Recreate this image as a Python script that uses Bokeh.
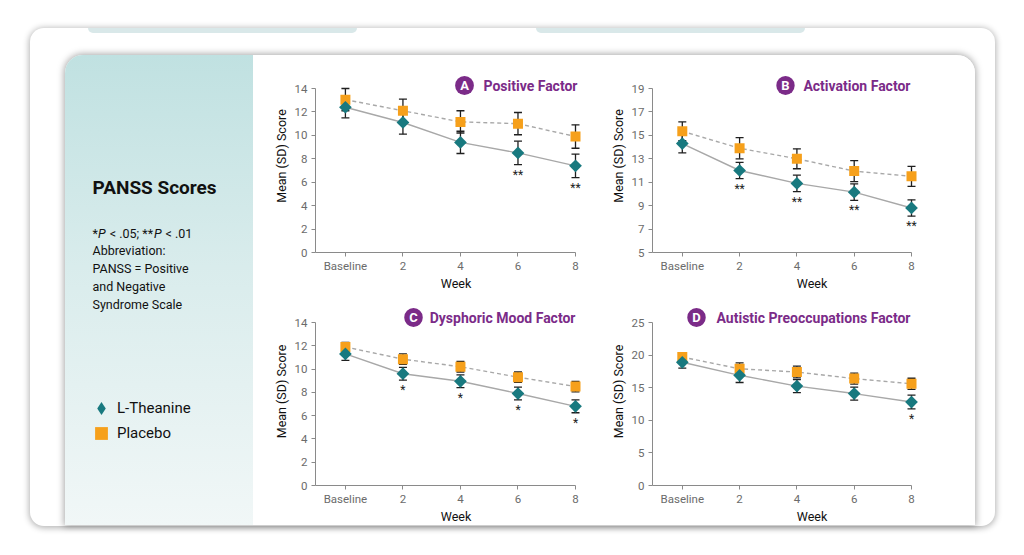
import numpy as np
from bokeh.plotting import figure
from bokeh.models import (Range1d, FixedTicker, Label, Whisker, TeeHead, ColumnDataSource,
                          Legend, LegendItem, Spacer)
from bokeh.layouts import row, column
from bokeh.embed import file_html
from bokeh.resources import INLINE
from bokeh.core.properties import value

# ---------------- data ----------------
weeks = ["Baseline", "2", "4", "6", "8"]

a_lth_mean = [12.4, 11.1, 9.4, 8.5, 7.4]
a_lth_sd = [0.9, 1.0, 0.95, 1.0, 1.0]
a_plc_mean = [13.05, 12.1, 11.15, 11.0, 9.9]
a_plc_sd = [0.95, 1.0, 0.95, 0.95, 1.0]
a_sig = ["", "", "", "**", "**"]
a_ticks = [0, 2, 4, 6, 8, 10, 12, 14]

b_lth_mean = [14.3, 12.0, 10.9, 10.15, 8.8]
b_lth_sd = [0.8, 0.7, 0.7, 0.7, 0.7]
b_plc_mean = [15.35, 13.9, 13.0, 11.95, 11.5]
b_plc_sd = [0.8, 0.9, 0.85, 0.9, 0.85]
b_sig = ["", "**", "**", "**", "**"]
b_ticks = [5, 7, 9, 11, 13, 15, 17, 19]

c_lth_mean = [11.3, 9.6, 8.95, 7.9, 6.8]
c_lth_sd = [0.55, 0.55, 0.55, 0.55, 0.55]
c_plc_mean = [11.9, 10.85, 10.2, 9.3, 8.5]
c_plc_sd = [0.4, 0.45, 0.45, 0.45, 0.45]
c_sig = ["", "*", "*", "*", "*"]
c_ticks = [0, 2, 4, 6, 8, 10, 12, 14]

d_lth_mean = [18.9, 16.9, 15.25, 14.1, 12.8]
d_lth_sd = [0.9, 1.1, 1.0, 1.0, 1.05]
d_plc_mean = [19.7, 17.9, 17.4, 16.4, 15.6]
d_plc_sd = [0.5, 0.9, 0.9, 0.85, 0.85]
d_sig = ["", "", "", "", "*"]
d_ticks = [0, 5, 10, 15, 20, 25]

# ---------------- style ----------------
FONT = "Roboto"
TEAL = "#18797f"
ORANGE = "#f6a01b"
PURPLE = "#7b2b88"
TICKC = "#6b6b6b"
AXISC = "#8a8a8a"
LINEC = "#a8a8a8"
ERRC = "#1f1f1f"


def make_panel(title, letter, ticks, lth, lsd, plc, psd, sig, fig_w, frame_h, bl,
               axis_w, axis_h, badge_x, title_right, title_dy):
    bt, br, bb = 4, 4, 41
    frame_w = fig_w - bl - br
    xs = list(range(len(weeks)))
    x0 = -0.52
    ppu = axis_w / (xs[-1] - x0)
    x_end = x0 + frame_w / ppu
    y0, y1 = ticks[0], ticks[-1]
    y_end = y0 + (y1 - y0) * frame_h / axis_h

    p = figure(frame_width=frame_w, frame_height=frame_h, output_backend="svg", toolbar_location=None,
               x_range=Range1d(x0, x_end), y_range=Range1d(y0, y_end),
               min_border_left=bl, min_border_right=br, min_border_top=bt, min_border_bottom=bb)
    p.grid.visible = False
    p.outline_line_color = None
    p.background_fill_color = "white"
    p.border_fill_color = "white"

    for ax in (p.xaxis[0], p.yaxis[0]):
        ax.axis_line_color = AXISC
        ax.axis_line_width = 1
        ax.major_tick_line_color = AXISC
        ax.major_tick_out = 4
        ax.major_tick_in = 0
        ax.minor_tick_line_color = None
        ax.major_label_text_color = TICKC
        ax.major_label_text_font = FONT
        ax.major_label_text_font_size = "11.5px"
        ax.axis_label_text_font = FONT
        ax.axis_label_text_font_size = "12.5px"
        ax.axis_label_text_font_style = "normal"
        ax.axis_label_text_color = "#111111"

    p.xaxis.ticker = FixedTicker(ticks=xs)
    p.xaxis.bounds = (x0, xs[-1])
    p.xaxis.major_label_overrides = {i: w for i, w in enumerate(weeks)}
    p.xaxis.axis_label = "Week"
    p.xaxis.major_label_standoff = 2
    p.xaxis.axis_label_standoff = 0
    p.yaxis.ticker = FixedTicker(ticks=ticks)
    p.yaxis.bounds = (y0, y1)
    p.yaxis.axis_label = "Mean (SD) Score"
    p.yaxis.major_label_standoff = 4
    p.yaxis.axis_label_standoff = 3

    src = ColumnDataSource(dict(
        x=xs, lth=lth, plc=plc, sig=sig,
        lth_up=[m + s for m, s in zip(lth, lsd)], lth_lo=[m - s for m, s in zip(lth, lsd)],
        plc_up=[m + s for m, s in zip(plc, psd)], plc_lo=[m - s for m, s in zip(plc, psd)],
    ))
    for up, lo in (("plc_up", "plc_lo"), ("lth_up", "lth_lo")):
        w = Whisker(source=src, base="x", upper=up, lower=lo, level="underlay",
                    line_color=ERRC, line_width=1.3,
                    upper_head=TeeHead(size=8, line_color=ERRC, line_width=1.3),
                    lower_head=TeeHead(size=8, line_color=ERRC, line_width=1.3))
        p.add_layout(w)

    p.line("x", "plc", source=src, line_color=LINEC, line_width=1.4, line_dash="4 3")
    p.line("x", "lth", source=src, line_color=LINEC, line_width=1.4)
    p.scatter("x", "plc", source=src, marker="square", size=10, fill_color=ORANGE, line_color=None)
    p.scatter("x", "lth", source=src, marker="square", angle=np.pi / 4, size=9,
              fill_color=TEAL, line_color=None)
    p.text("x", "lth_lo", text="sig", source=src, text_align="center", text_baseline="top",
           y_offset=3, text_font_size="12px", text_color="#222222", text_font=value(FONT))

    ty = axis_h + title_dy
    p.add_layout(Label(x=badge_x, y=ty, x_units="screen", y_units="screen", text=letter,
                       text_align="center", text_baseline="middle", text_color="white",
                       text_font=FONT, text_font_style="bold", text_font_size="13px",
                       background_fill_color=PURPLE, border_radius=10, padding=(5, 2)))
    p.add_layout(Label(x=title_right, y=ty, x_units="screen", y_units="screen", text=title,
                       text_align="right", text_baseline="middle", text_color=PURPLE,
                       text_font=FONT, text_font_style="bold", text_font_size="14px"))
    return p


pA = make_panel("Positive Factor", "A", a_ticks, a_lth_mean, a_lth_sd, a_plc_mean, a_plc_sd, a_sig,
                347, 193, 62, 260, 164, 149, 262, 3)
pB = make_panel("Activation Factor", "B", b_ticks, b_lth_mean, b_lth_sd, b_plc_mean, b_plc_sd, b_sig,
                375, 193, 52, 259, 164, 133, 258, 3)
pC = make_panel("Dysphoric Mood Factor", "C", c_ticks, c_lth_mean, c_lth_sd, c_plc_mean, c_plc_sd, c_sig,
                347, 188, 62, 260, 163, 98, 260, 5)
pD = make_panel("Autistic Preoccupations Factor", "D", d_ticks, d_lth_mean, d_lth_sd, d_plc_mean, d_plc_sd,
                d_sig, 375, 188, 52, 259, 163, 44, 258, 5)

# ---------------- sidebar ----------------
SB_W, SB_H = 188, 470
sb = figure(width=SB_W, height=SB_H, output_backend="svg", toolbar_location=None,
            x_range=Range1d(0, 1), y_range=Range1d(0, 1), x_axis_type=None, y_axis_type=None,
            min_border=0, min_border_left=0, min_border_right=0, min_border_top=0, min_border_bottom=0,
            styles={"background": "linear-gradient(180deg, #c0e1e1 0%, #d9ecec 45%, #f1f7f7 100%)"})
sb.grid.visible = False
sb.outline_line_color = None
sb.background_fill_color = None
sb.border_fill_color = None

TOP = SB_H  # labels measured from the sidebar top
sb.add_layout(Label(x=27, y=TOP - 143, x_units="screen", y_units="screen", text="PANSS Scores",
                    text_font=FONT, text_font_style="bold", text_font_size="19px", text_color="#111111"))

# first note line with italic P (segments, whitespace accounted in offsets)
NS = "12.5px"
seg = [("*", "normal", 0), ("P", "italic", 5.6), ("< .05; **", "normal", 17.2),
       ("P", "italic", 61.5), ("< .01", "normal", 73.0)]
for t, st, dx in seg:
    sb.add_layout(Label(x=27 + dx, y=TOP - 185, x_units="screen", y_units="screen", text=t,
                        text_font=FONT, text_font_style=st, text_font_size=NS, text_color="#111111"))
notes = ["Abbreviation:", "PANSS = Positive", "and Negative", "Syndrome Scale"]
for i, t in enumerate(notes):
    sb.add_layout(Label(x=27, y=TOP - 185 - 17.8 * (i + 1), x_units="screen", y_units="screen", text=t,
                        text_font=FONT, text_font_size=NS, text_color="#111111"))

nan = [float("nan")]
r1 = sb.scatter(x=nan, y=nan, marker="diamond", size=10, fill_color=TEAL, line_color=None)
r2 = sb.scatter(x=nan, y=nan, marker="square", size=10, fill_color=ORANGE, line_color=None)
for lab, rr, ly in (("L-Theanine", r1, 99), ("Placebo", r2, 74)):
    leg = Legend(items=[LegendItem(label=lab, renderers=[rr])],
                 location=(20, ly), background_fill_alpha=0, border_line_color=None,
                 glyph_width=32, glyph_height=36, spacing=0, padding=0, margin=0, label_standoff=0,
                 label_text_font=FONT, label_text_font_size="15px", label_text_color="#111111")
    sb.add_layout(leg)

# ---------------- layout ----------------
charts = column(row(pA, pB), row(pC, pD))
inner = row(sb, charts, width=910, height=470, margin=(22, 20, 1, 35),
            styles={"background": "white", "border-radius": "18px 18px 0 0", "overflow": "hidden",
                    "box-shadow": "0 0 7px 1px rgba(0,0,0,0.35)"})
tab_style = {"background": "#d9e8e9", "border-radius": "0 0 10px 10px"}
tabs = row(Spacer(width=58, height=5), Spacer(width=269, height=5, styles=tab_style),
           Spacer(width=179, height=5), Spacer(width=269, height=5, styles=tab_style))
outer = column(tabs, inner, margin=(28, 0, 0, 30),
               styles={"background": "white", "border-radius": "14px",
                       "box-shadow": "0 1px 6px 1px rgba(0,0,0,0.3)"})
root = column(outer)

open("out.html", "w").write(file_html(root, INLINE))
